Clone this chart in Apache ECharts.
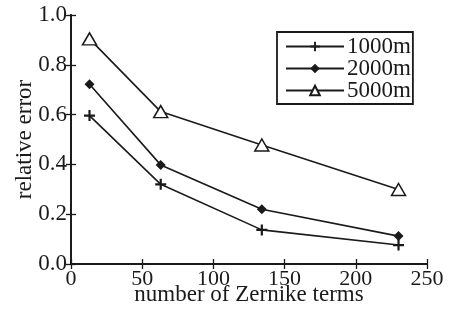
<!DOCTYPE html>
<html>
<head>
<meta charset="utf-8">
<script src="https://cdn.jsdelivr.net/npm/echarts@6/dist/echarts.min.js"></script>
<style>
  html, body { margin: 0; padding: 0; background: #fff; }
  #chart { width: 454px; height: 311px; }
</style>
</head>
<body>
<div id="chart"></div>
<script>
// data
var terms = [13, 63, 134, 230];
var err1000 = [0.596, 0.32, 0.137, 0.076];
var err2000 = [0.722, 0.398, 0.22, 0.112];
var err5000 = [0.904, 0.612, 0.478, 0.299];
var seriesNames = ['1000m', '2000m', '5000m'];

var ink = '#1a1a1a';
var serif = '"Liberation Serif", "DejaVu Serif", serif';

function pairs(ys) {
  return terms.map(function (x, i) { return [x, ys[i]]; });
}

var chart = echarts.init(document.getElementById('chart'));

// common axis bits (box with inward ticks)
var boxLine = { show: true, lineStyle: { color: ink, width: 1.8 } };
var inTick = { show: true, inside: true, length: 5, lineStyle: { color: ink, width: 1.3 } };

var option = {
  backgroundColor: '#fff',
  animation: false,
  grid: { left: 71, right: 27, top: 15, bottom: 47, containLabel: false, outerBoundsMode: 'none' },
  legend: {
    orient: 'vertical',
    left: 277,
    top: 32,
    padding: [3, 2, 2, 8],
    borderColor: ink,
    borderWidth: 1.8,
    itemWidth: 58,
    itemHeight: 12,
    itemGap: -1,
    data: seriesNames,
    textStyle: { fontFamily: serif, fontSize: 23, lineHeight: 20, color: ink, padding: [0, 0, 0, -2] }
  },
  xAxis: [{
    type: 'value',
    min: 0, max: 250, interval: 50,
    name: 'number of Zernike terms',
    nameLocation: 'middle',
    nameGap: 19,
    nameMoveOverlap: false,
    nameTextStyle: { fontFamily: serif, fontSize: 23, color: ink },
    axisLine: boxLine,
    axisTick: inTick,
    axisLabel: { fontFamily: serif, fontSize: 22, color: ink, margin: 4 },
    splitLine: { show: false }
  }, {
    type: 'value',
    position: 'top',
    min: 0, max: 250, interval: 50,
    axisLine: boxLine,
    axisTick: inTick,
    axisLabel: { show: false },
    splitLine: { show: false }
  }],
  yAxis: [{
    type: 'value',
    min: 0, max: 1, interval: 0.2,
    name: 'relative error',
    nameLocation: 'middle',
    nameGap: 35,
    nameMoveOverlap: false,
    nameTextStyle: { fontFamily: serif, fontSize: 23, color: ink },
    axisLine: boxLine,
    axisTick: inTick,
    axisLabel: {
      fontFamily: serif, fontSize: 23, color: ink, margin: 4,
      formatter: function (v) { return v.toFixed(1); }
    },
    splitLine: { show: false }
  }, {
    type: 'value',
    position: 'right',
    min: 0, max: 1, interval: 0.2,
    axisLine: boxLine,
    axisTick: inTick,
    axisLabel: { show: false },
    splitLine: { show: false }
  }],
  series: [{
    name: seriesNames[0],
    type: 'line',
    data: pairs(err1000),
    symbol: 'path://M4,0H6V4H10V6H6V10H4V6H0V4H4Z',
    symbolSize: 11,
    lineStyle: { color: ink, width: 1.6 },
    itemStyle: { color: ink }
  }, {
    name: seriesNames[1],
    type: 'line',
    data: pairs(err2000),
    symbol: 'diamond',
    symbolSize: 10,
    lineStyle: { color: ink, width: 1.6 },
    itemStyle: { color: ink }
  }, {
    name: seriesNames[2],
    type: 'line',
    data: pairs(err5000),
    symbol: 'triangle',
    symbolSize: [14, 12],
    lineStyle: { color: ink, width: 1.6 },
    itemStyle: { color: '#fff', borderColor: ink, borderWidth: 1.5 }
  }]
};

chart.setOption(option);
</script>
</body>
</html>
